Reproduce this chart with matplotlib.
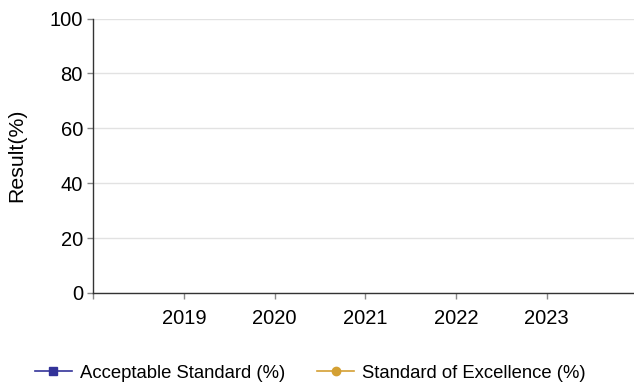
import numpy as np
import matplotlib
matplotlib.use("Agg")
from matplotlib import pyplot as plt

plt.rcParams['font.family'] = ['Liberation Sans', 'DejaVu Sans']

years = [2019, 2020, 2021, 2022, 2023]
# no results reported for these years
acceptable = [np.nan, np.nan, np.nan, np.nan, np.nan]
excellence = [np.nan, np.nan, np.nan, np.nan, np.nan]
series_names = ['Acceptable Standard (%)', 'Standard of Excellence (%)']
y_ticks = [0, 20, 40, 60, 80, 100]

fig = plt.figure(figsize=(6.34, 3.87), dpi=100)
ax = fig.add_axes([93.3/634, 1-293/387, 1-93.3/634, (293-18.5)/387])

ax.plot(years, acceptable, color='#333399', marker='s', markersize=6, lw=1.2, label=series_names[0])
ax.plot(years, excellence, color='#D4A033', marker='o', markersize=6, lw=1.2, label=series_names[1])

ax.set_xlim(2018, 2018 + (634-93.3)/90.7)
ax.set_xticks([2018] + years)
ax.set_xticklabels([''] + [str(y) for y in years])
ax.set_ylim(0, 100)
ax.set_yticks(y_ticks)
ax.set_ylabel('Result(%)', fontsize=15.3)
ax.yaxis.set_label_coords(-0.124, 0.5)

ax.grid(axis='y', color='#e2e2e2', lw=1)
ax.set_axisbelow(True)
for s in ['top', 'right']:
    ax.spines[s].set_visible(False)
for s in ['left', 'bottom']:
    ax.spines[s].set_color('#333333')
    ax.spines[s].set_linewidth(1)
ax.tick_params(labelsize=14.5, colors='#888888', labelcolor='black', length=4.5, width=1, pad=3)
ax.tick_params(axis='x', pad=7)

fig.legend(loc='center left', bbox_to_anchor=(35/634, 1-373/387), ncol=2, frameon=False,
           fontsize=13.3, handlelength=2.0, handletextpad=0.43, columnspacing=1.73,
           borderpad=0, borderaxespad=0)

fig.savefig('out.png', dpi=100)
